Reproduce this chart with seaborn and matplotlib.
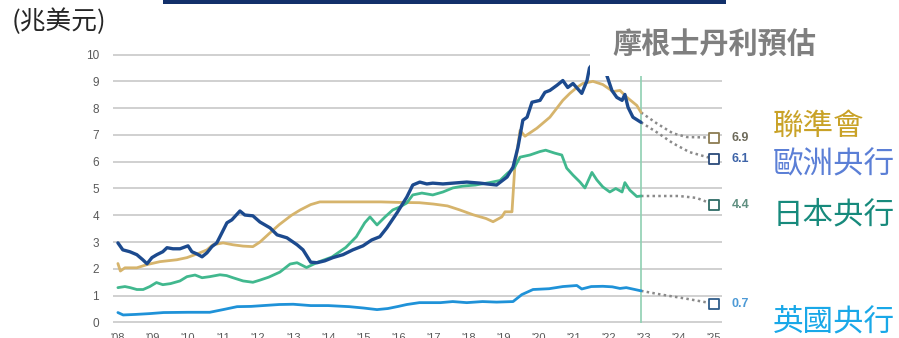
import matplotlib
matplotlib.use("Agg")
import matplotlib.pyplot as plt
from matplotlib.patches import Rectangle
import numpy as np
import pandas as pd
import seaborn as sns

# ---- balance-sheet history (trillion USD), by fractional year ----
fed_years = [2008.0, 2008.07, 2008.2, 2008.54, 2008.83, 2009.2, 2009.68, 2009.97, 2010.34,
             2010.54, 2010.71, 2011.0, 2011.28, 2011.57, 2011.85, 2012.05, 2012.3, 2012.6,
             2012.95, 2013.2, 2013.5, 2013.76, 2014.5, 2015.5, 2016.04, 2016.6, 2017.0,
             2017.4, 2017.75, 2018.13, 2018.5, 2018.7, 2018.95, 2019.04, 2019.24, 2019.32,
             2019.47, 2019.61, 2019.95, 2020.32, 2020.52, 2020.69, 2020.89, 2021.09, 2021.26,
             2021.55, 2021.83, 2022.12, 2022.32, 2022.52, 2022.8, 2022.92]
fed_vals = [2.2, 1.92, 2.04, 2.04, 2.16, 2.27, 2.34, 2.42, 2.6,
            2.71, 2.9, 2.97, 2.9, 2.85, 2.83, 3.0, 3.3, 3.65,
            4.0, 4.2, 4.4, 4.5, 4.5, 4.5, 4.48, 4.47, 4.42,
            4.35, 4.2, 4.02, 3.88, 3.76, 3.94, 4.13, 4.13, 5.8,
            7.17, 6.95, 7.25, 7.66, 8.0, 8.29, 8.55, 8.77, 8.92,
            9.0, 8.88, 8.62, 8.66, 8.4, 8.1, 7.84]

ecb_years = [2008.0, 2008.14, 2008.34, 2008.54, 2008.71, 2008.83, 2008.97, 2009.11, 2009.28,
             2009.4, 2009.57, 2009.77, 2010.0, 2010.11, 2010.25, 2010.4, 2010.54, 2010.68,
             2010.82, 2010.91, 2011.11, 2011.25, 2011.48, 2011.62, 2011.85, 2012.05, 2012.34,
             2012.54, 2012.82, 2013.11, 2013.28, 2013.5, 2013.68, 2013.9, 2014.13, 2014.42,
             2014.7, 2014.99, 2015.24, 2015.47, 2015.67, 2015.96, 2016.24, 2016.41, 2016.61,
             2016.81, 2016.98, 2017.27, 2017.55, 2017.95, 2018.33, 2018.8, 2019.1, 2019.27,
             2019.41, 2019.55, 2019.67, 2019.81, 2020.04, 2020.18, 2020.32, 2020.52, 2020.69,
             2020.83, 2020.98, 2021.23, 2021.38, 2021.45, 2021.6, 2021.8, 2021.95, 2022.09,
             2022.23, 2022.38, 2022.46, 2022.55, 2022.69, 2022.92]
ecb_vals = [2.97, 2.71, 2.64, 2.53, 2.34, 2.19, 2.42, 2.53, 2.64,
            2.79, 2.75, 2.75, 2.86, 2.64, 2.56, 2.45, 2.6, 2.83,
            2.97, 3.2, 3.72, 3.83, 4.16, 4.01, 3.98, 3.75, 3.53,
            3.27, 3.16, 2.9, 2.71, 2.25, 2.23, 2.3, 2.42, 2.53,
            2.71, 2.86, 3.08, 3.2, 3.53, 4.09, 4.68, 5.13, 5.24,
            5.17, 5.2, 5.17, 5.2, 5.24, 5.2, 5.13, 5.43, 5.8,
            6.54, 7.55, 7.66, 8.22, 8.29, 8.59, 8.66, 8.85, 9.03,
            8.77, 8.92, 8.55, 9.03, 9.5, 9.75, 9.7, 9.2, 8.66,
            8.4, 8.29, 8.51, 8.03, 7.66, 7.47]

boj_years = [2008.0, 2008.2, 2008.35, 2008.54, 2008.72, 2008.91, 2009.1, 2009.28, 2009.5,
             2009.77, 2009.97, 2010.2, 2010.4, 2010.62, 2010.91, 2011.1, 2011.28, 2011.57,
             2011.85, 2012.05, 2012.3, 2012.62, 2012.91, 2013.11, 2013.38, 2013.7, 2014.1,
             2014.5, 2014.8, 2015.04, 2015.19, 2015.39, 2015.62, 2015.84, 2016.04, 2016.24,
             2016.41, 2016.67, 2016.98, 2017.27, 2017.55, 2017.84, 2018.2, 2018.6, 2018.9,
             2019.12, 2019.3, 2019.47, 2019.75, 2020.04, 2020.2, 2020.46, 2020.66, 2020.8,
             2020.98, 2021.18, 2021.32, 2021.52, 2021.66, 2021.83, 2022.03, 2022.2, 2022.38,
             2022.46, 2022.6, 2022.8, 2022.92]
boj_vals = [1.3, 1.34, 1.3, 1.23, 1.23, 1.34, 1.49, 1.41, 1.45,
            1.55, 1.71, 1.77, 1.67, 1.71, 1.78, 1.75, 1.67, 1.55,
            1.5, 1.58, 1.69, 1.88, 2.18, 2.23, 2.05, 2.25, 2.44,
            2.8, 3.2, 3.72, 3.94, 3.64, 3.94, 4.2, 4.31, 4.46,
            4.76, 4.83, 4.76, 4.87, 5.02, 5.09, 5.13, 5.22, 5.3,
            5.58, 5.76, 6.17, 6.25, 6.38, 6.43, 6.32, 6.25, 5.76,
            5.5, 5.24, 5.02, 5.6, 5.32, 5.06, 4.87, 5.0, 4.87,
            5.22, 4.94, 4.7, 4.72]

boe_years = [2008.0, 2008.15, 2008.5, 2008.9, 2009.3, 2010.0, 2010.62, 2011.0, 2011.4,
             2011.8, 2012.14, 2012.6, 2013.0, 2013.5, 2014.0, 2014.6, 2015.0, 2015.39,
             2015.7, 2016.0, 2016.24, 2016.6, 2017.2, 2017.55, 2017.95, 2018.4, 2018.8,
             2019.27, 2019.52, 2019.84, 2020.3, 2020.69, 2021.09, 2021.23, 2021.5, 2021.83,
             2022.1, 2022.32, 2022.5, 2022.92]
boe_vals = [0.37, 0.28, 0.3, 0.33, 0.37, 0.38, 0.38, 0.48, 0.59,
            0.6, 0.63, 0.67, 0.68, 0.63, 0.63, 0.59, 0.54, 0.48,
            0.52, 0.6, 0.67, 0.74, 0.74, 0.78, 0.74, 0.78, 0.76,
            0.78, 1.04, 1.23, 1.26, 1.34, 1.38, 1.25, 1.34, 1.35,
            1.33, 1.27, 1.3, 1.18]

# ---- Morgan Stanley projections to 2025 ----
fed_fc_years = [2022.92, 2023.37, 2023.83, 2024.23, 2025.0]
fed_fc_vals = [7.84, 7.43, 7.06, 6.92, 6.9]
ecb_fc_years = [2022.92, 2023.37, 2023.83, 2024.3, 2025.0]
ecb_fc_vals = [7.47, 7.1, 6.69, 6.36, 6.1]
boj_fc_years = [2022.92, 2024.0, 2024.5, 2025.0]
boj_fc_vals = [4.72, 4.72, 4.65, 4.4]
boe_fc_years = [2022.92, 2023.5, 2024.2, 2025.0]
boe_fc_vals = [1.18, 1.04, 0.89, 0.7]

forecast_start = 2022.92
year_labels = ["'08", "'09", "'10", "'11", "'12", "'13", "'14", "'15", "'16",
               "'17", "'18", "'19", "'20", "'21", "'22", "'23", "'24", "'25"]
bank_names = ["聯準會", "歐洲央行", "日本央行", "英國央行"]

sns.set_theme(style="white")
cjk = ["Noto Sans CJK TC", "DejaVu Sans"]
plt.rcParams["font.family"] = ["Liberation Sans", "DejaVu Sans"]

W, H = 899, 338
fig = plt.figure(figsize=(W / 100, H / 100), dpi=100)
ax = fig.add_axes([113 / W, 1 - 323 / H, (722 - 113) / W, (323 - 54) / H])

series = [
    ("fed", fed_years, fed_vals, "#d6b46c", 2.0, fed_fc_years, fed_fc_vals, "#8c7c52", "#6d6a5a"),
    ("boj", boj_years, boj_vals, "#41b88e", 2.0, boj_fc_years, boj_fc_vals, "#2e6b66", "#5f8f80"),
    ("boe", boe_years, boe_vals, "#1f92d8", 2.0, boe_fc_years, boe_fc_vals, "#2f5d8a", "#4d9ad6"),
    ("ecb", ecb_years, ecb_vals, "#1c4a8e", 2.4, ecb_fc_years, ecb_fc_vals, "#2a4a7a", "#3e64a8"),
]

for i, (key, yrs, vals, col, lw, fyrs, fvals, sqcol, numcol) in enumerate(series):
    hist = pd.DataFrame({"year": yrs, "value": vals})
    sns.lineplot(data=hist, x="year", y="value", color=col, linewidth=lw,
                 estimator=None, sort=False, ax=ax, zorder=3 + i)
    fc = pd.DataFrame({"year": fyrs, "value": fvals})
    sns.lineplot(data=fc, x="year", y="value", color="#8a8a8a", linewidth=1.8,
                 linestyle=(0, (1, 1.3)), estimator=None, sort=False, ax=ax, zorder=2)
    ax.scatter([fyrs[-1]], [fvals[-1]], marker="s", s=58, facecolor="white",
               edgecolor=sqcol, linewidth=1.3, zorder=8, clip_on=False)
    ax.text(fyrs[-1] + 0.5, fvals[-1], f"{fvals[-1]:.1f}", fontsize=9, fontweight="bold",
            color=numcol, va="center", ha="left", clip_on=False)

ax.axvline(forecast_start, color="#8fd0b2", linewidth=1.2, zorder=1)

ax.set_xlim(2007.86, 2025.23)
ax.set_ylim(-0.02, 10.02)
ax.set_yticks(range(0, 11))
ax.set_yticklabels([str(v) for v in range(0, 11)])
ax.set_xticks(range(2008, 2026))
ax.set_xticklabels(year_labels)
ax.tick_params(axis="y", length=0, pad=10, labelsize=8.5, labelcolor="#595959")
ax.tick_params(axis="x", length=0, pad=7, labelsize=8, labelcolor="#595959")
ax.grid(axis="y", color="#c4c4c4", linewidth=1.1, zorder=0)
ax.grid(axis="x", visible=False)
ax.set_xlabel("")
ax.set_ylabel("")
for s in ax.spines.values():
    s.set_visible(False)

# header bar and projection banner
fig.patches.append(Rectangle((163 / W, 1 - 4 / H), (726 - 163) / W, 4 / H,
                             transform=fig.transFigure, facecolor="#12306a",
                             edgecolor="none", zorder=7))
fig.patches.append(Rectangle((590 / W, 1 - 76 / H), (W - 590) / W, 72 / H,
                             transform=fig.transFigure, facecolor="white",
                             edgecolor="none", zorder=5))
fig.text(612 / W, 1 - 45 / H, "摩根士丹利預估", fontsize=21, fontweight="bold",
         color="#7f7f7f", va="center", ha="left", family=cjk, zorder=6)
fig.text(12 / W, 1 - 22 / H, "(兆美元)", fontsize=18.5, color="#262626",
         va="center", ha="left", family=cjk)

label_y = [126, 165, 215, 322]
label_cols = {"fed": "#c9a227", "ecb": "#5b7fd6", "boj": "#178a7c", "boe": "#19a8e8"}
for name, key, yp in zip(bank_names, ["fed", "ecb", "boj", "boe"], label_y):
    fig.text(773 / W, 1 - yp / H, name, fontsize=22, color=label_cols[key],
             va="center", ha="left", family=cjk)

fig.savefig("out.png", dpi=100, facecolor="white")
